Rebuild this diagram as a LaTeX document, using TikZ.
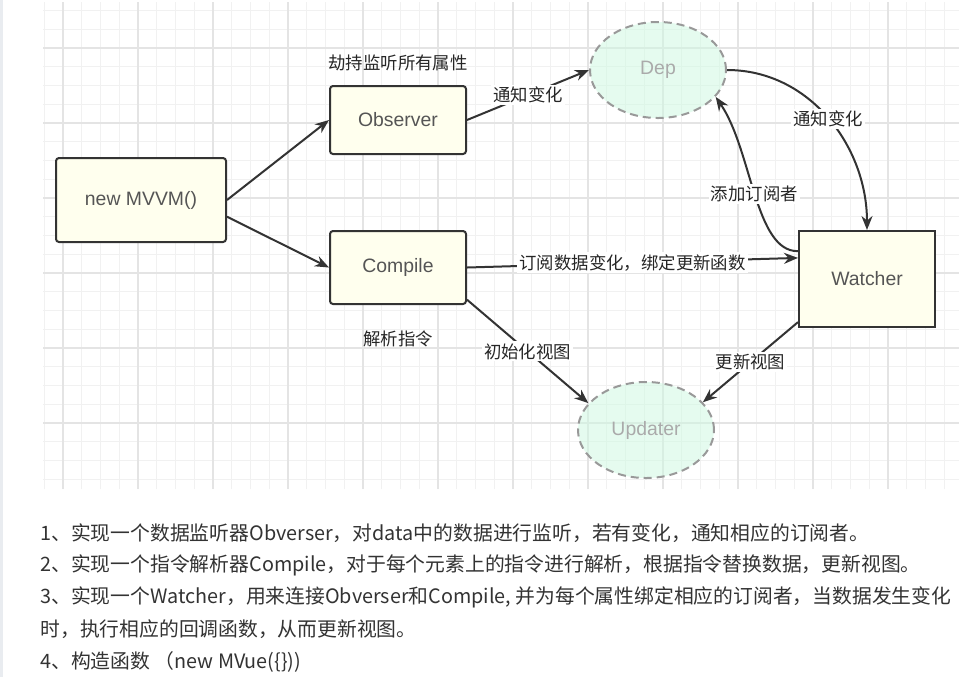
\documentclass[tikz,border=0pt]{standalone}
\usepackage{fontspec}
\setmainfont{Liberation Sans}
\newfontfamily\cjk{Noto Sans CJK SC}
\usetikzlibrary{shapes.geometric, positioning, arrows.meta}
\definecolor{edge}{HTML}{333333}
\definecolor{boxfill}{HTML}{FFFFEE}
\definecolor{nodetext}{HTML}{555555}
\definecolor{mint}{HTML}{CDF9E1}
\definecolor{dashgray}{HTML}{999999}
\definecolor{softtext}{HTML}{AAAAAA}
\definecolor{labeltext}{HTML}{262626}
\definecolor{listtext}{HTML}{333333}
\definecolor{gridminor}{HTML}{F1F1F1}
\definecolor{gridmajor}{HTML}{E4E4E4}
\definecolor{sidegray}{HTML}{E9ECF0}
\tikzset{
  gridfine/.style  = {draw=gridminor, line width=0.5pt},
  gridbold/.style  = {draw=gridmajor, line width=0.6pt},
  comp/.style      = {rectangle, draw=edge, line width=1pt, fill=boxfill, rounded corners=1.5pt, text=nodetext, font=\fontsize{9.7}{12}\selectfont},
  watch/.style     = {comp, sharp corners},
  store/.style     = {ellipse, draw=dashgray, line width=1pt, dash pattern=on 4pt off 2.5pt, fill=mint, fill opacity=0.5, text opacity=1, text=softtext, minimum width=68pt, minimum height=48pt, font=\fontsize{9.7}{12}\selectfont},
  note/.style      = {font=\cjk\fontsize{8.7}{10}\selectfont, text=labeltext, inner sep=1pt},
  tag/.style       = {note, fill=white},
  link/.style      = {line width=1pt, draw=edge, -{Stealth[length=7pt, width=5.5pt]}},
  item/.style      = {anchor=west, font=\cjk\fontsize{9.9}{12}\selectfont, text=listtext, inner sep=0pt}
}

\begin{document}
\begin{tikzpicture}[x=0.5pt, y=0.5pt]

  \useasboundingbox (0,0) rectangle (959,-677);
  \fill[white] (0,0) rectangle (959,-677);
  \fill[sidegray] (0,0) rectangle (3,-677);

  % grid paper
  \begin{scope}[shift={(44.25,-10.5)}]
    \draw[gridfine, step=9.375pt] (-1.25,8.5) grid (914.75,-478.5);
  \end{scope}
  \begin{scope}[shift={(63,-48)}]
    \draw[gridbold, step=37.5pt] (-20,46) grid (896,-441);
  \end{scope}

  % components
  \node[comp, minimum width=85pt, minimum height=42pt] (mvvm)     at (141,-200)   {new MVVM()};
  \node[comp, minimum width=68pt, minimum height=34pt] (observer) at (398,-120)   {Observer};
  \node[comp, minimum width=68pt, minimum height=36.5pt] (compile) at (398,-267.5) {Compile};
  \node[watch, minimum width=68pt, minimum height=48pt] (watcher) at (867,-279)   {Watcher};
  \node[store] (dep)     at (658,-70)  {Dep};
  \node[store] (updater) at (646,-430) {Updater};

  \node[note, above=6pt of observer]  (hijack) {劫持监听所有属性};
  \node[note, below=11.5pt of compile] (parse) {解析指令};

  % connectors
  \draw[link] (mvvm.east) -- (observer.west);
  \draw[link] (mvvm.-11) -- (compile.west);
  \draw[link] (observer.east) -- (dep.west) node[tag, midway] {通知变化};
  \draw[link] (dep.east) to[out=0, in=90] node[tag, midway] {通知变化} (watcher.north);
  \draw[link] (watcher.158) .. controls (755,-252) and (752,-150) .. (dep.-25)
    node[tag, pos=0.5] {添加订阅者};
  \draw[link] (compile.east) -- (watcher.163) node[tag, midway] {订阅数据变化，绑定更新函数};
  \draw[link] (compile.-25) -- (updater.155) node[tag, midway] {初始化视图};
  \draw[link] (watcher.-148) -- (updater.26) node[tag, midway] {更新视图};

  % description
  \node[item] (l1) at (40,-533) {1、实现一个数据监听器Obverser，对data中的数据进行监听，若有变化，通知相应的订阅者。};
  \node[item] (l2) at (40,-565) {2、实现一个指令解析器Compile，对于每个元素上的指令进行解析，根据指令替换数据，更新视图。};
  \node[item] (l3) at (40,-597) {3、实现一个Watcher，用来连接Obverser和Compile, 并为每个属性绑定相应的订阅者，当数据发生变化};
  \node[item] (l4) at (40,-629) {时，执行相应的回调函数，从而更新视图。};
  \node[item] (l5) at (40,-662) {4、构造函数 （new MVue(\{\}))};

\end{tikzpicture}
\end{document}
